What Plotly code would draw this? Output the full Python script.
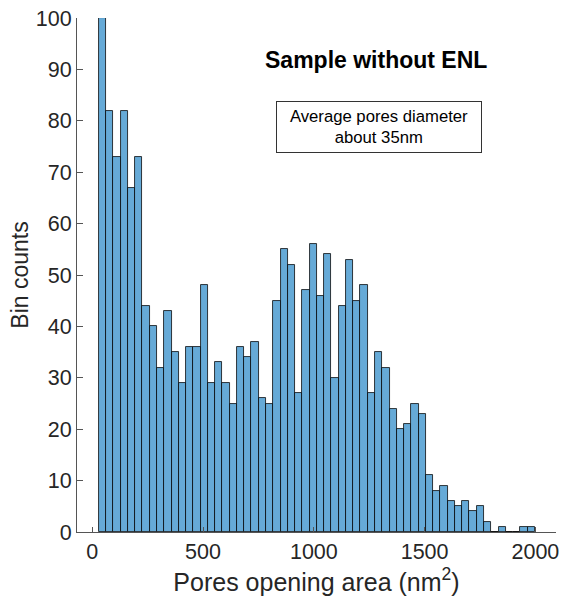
import numpy as np
import plotly.graph_objects as go

# ---- data ----
bin_start = 29.6          # left edge of first bin (nm^2)
bin_width = 32.8          # bin width (nm^2)
counts = [100, 82, 73, 82, 67, 73, 44, 40, 32, 43,
          35, 29, 36, 36, 48, 29, 33, 29, 25, 36,
          34, 37, 26, 25, 45, 55, 52, 27, 47, 56,
          46, 54, 30, 44, 53, 45, 48, 27, 35, 32,
          24, 20, 21, 25, 23, 11, 8, 9, 6, 5,
          6, 4, 5, 2, 0, 1, 0, 0, 1, 1]
x_ticks = [0, 500, 1000, 1500, 2000]
y_ticks = list(range(0, 101, 10))

title_text = "<b>Sample without ENL</b>"
box_text = "Average pores diameter<br>about 35nm"
x_title = "Pores opening area (nm<sup>2</sup>)"
y_title = "Bin counts"

centers = bin_start + bin_width * (np.arange(len(counts)) + 0.5)

FONT = "Liberation Sans, Arial, Helvetica, sans-serif"
AX = "#262626"

fig = go.Figure()
fig.add_trace(go.Bar(
    x=centers, y=counts, width=bin_width,
    marker=dict(color="rgb(102,170,215)",
                line=dict(color="rgba(0,0,0,0.85)", width=0.9)),
    hoverinfo="x+y",
))

fig.update_layout(
    width=566, height=608,
    margin=dict(l=77, r=7, t=15, b=76),
    plot_bgcolor="white", paper_bgcolor="white",
    showlegend=False, bargap=0,
    font=dict(family=FONT, color=AX),
    xaxis=dict(range=[-69, 2093], tickvals=x_ticks, ticks="inside", ticklen=5,
               tickcolor="#555", showline=True, linecolor="#555", linewidth=1,
               showgrid=False, zeroline=False, tickfont=dict(size=21.5, color=AX),
               title=dict(text=x_title, font=dict(size=25, color=AX), standoff=10)),
    yaxis=dict(range=[0, 100], tickvals=y_ticks, ticks="inside", ticklen=6,
               tickcolor="#555", showline=True, linecolor="#555", linewidth=1,
               showgrid=False, zeroline=False, tickfont=dict(size=21.5, color=AX),
               title=dict(text=y_title, font=dict(size=23, color=AX), standoff=0)),
)

fig.add_annotation(xref="paper", yref="paper", x=0.625, y=0.919,
                   text=title_text, showarrow=False,
                   font=dict(size=23, color="black", family=FONT),
                   xanchor="center", yanchor="middle")
fig.add_annotation(xref="paper", yref="paper", x=0.630, y=0.787,
                   text=box_text, showarrow=False,
                   font=dict(size=16.7, color="black", family=FONT),
                   xanchor="center", yanchor="middle", align="center",
                   bordercolor="#333", borderwidth=1, borderpad=4,
                   width=196, height=42, bgcolor="white")

fig.write_html("out.html")
